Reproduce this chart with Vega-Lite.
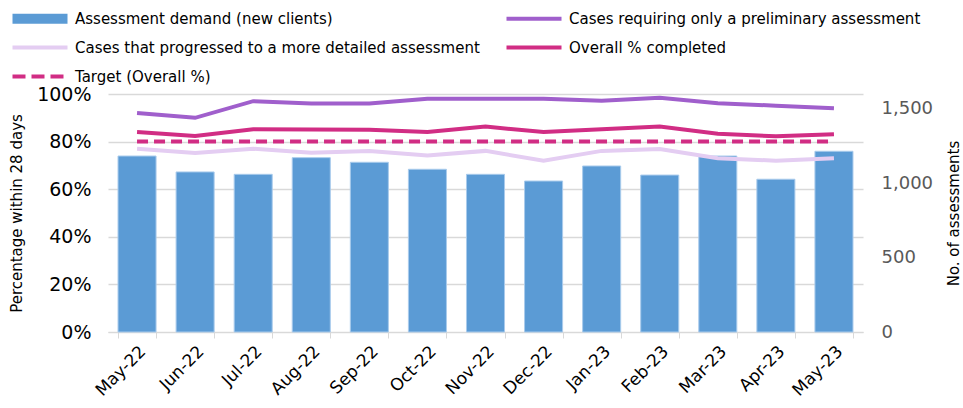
{
  "$schema": "https://vega.github.io/schema/vega-lite/v6.json",
  "width": 755,
  "height": 238,
  "autosize": "none",
  "padding": {"left": 108, "top": 94, "right": 100, "bottom": 76},
  "background": "white",
  "config": {
    "view": {"stroke": null},
    "font": "DejaVu Sans",
    "axis": {"labelFont": "DejaVu Sans", "titleFont": "DejaVu Sans", "titleFontWeight": "normal", "titleColor": "black", "labelColor": "black"}
  },
  "datasets": {
    "bars": [
      {"month": "May-22", "series": "Assessment demand (new clients)", "count": 1183},
      {"month": "Jun-22", "series": "Assessment demand (new clients)", "count": 1076},
      {"month": "Jul-22", "series": "Assessment demand (new clients)", "count": 1060},
      {"month": "Aug-22", "series": "Assessment demand (new clients)", "count": 1172},
      {"month": "Sep-22", "series": "Assessment demand (new clients)", "count": 1141},
      {"month": "Oct-22", "series": "Assessment demand (new clients)", "count": 1094},
      {"month": "Nov-22", "series": "Assessment demand (new clients)", "count": 1060},
      {"month": "Dec-22", "series": "Assessment demand (new clients)", "count": 1015},
      {"month": "Jan-23", "series": "Assessment demand (new clients)", "count": 1116},
      {"month": "Feb-23", "series": "Assessment demand (new clients)", "count": 1055},
      {"month": "Mar-23", "series": "Assessment demand (new clients)", "count": 1183},
      {"month": "Apr-23", "series": "Assessment demand (new clients)", "count": 1027},
      {"month": "May-23", "series": "Assessment demand (new clients)", "count": 1215}
    ],
    "lines": [
      {"month": "May-22", "series": "Cases requiring only a preliminary assessment", "pct": 0.92},
      {"month": "Jun-22", "series": "Cases requiring only a preliminary assessment", "pct": 0.90},
      {"month": "Jul-22", "series": "Cases requiring only a preliminary assessment", "pct": 0.97},
      {"month": "Aug-22", "series": "Cases requiring only a preliminary assessment", "pct": 0.96},
      {"month": "Sep-22", "series": "Cases requiring only a preliminary assessment", "pct": 0.96},
      {"month": "Oct-22", "series": "Cases requiring only a preliminary assessment", "pct": 0.98},
      {"month": "Nov-22", "series": "Cases requiring only a preliminary assessment", "pct": 0.98},
      {"month": "Dec-22", "series": "Cases requiring only a preliminary assessment", "pct": 0.98},
      {"month": "Jan-23", "series": "Cases requiring only a preliminary assessment", "pct": 0.972},
      {"month": "Feb-23", "series": "Cases requiring only a preliminary assessment", "pct": 0.984},
      {"month": "Mar-23", "series": "Cases requiring only a preliminary assessment", "pct": 0.961},
      {"month": "Apr-23", "series": "Cases requiring only a preliminary assessment", "pct": 0.951},
      {"month": "May-23", "series": "Cases requiring only a preliminary assessment", "pct": 0.94},
      {"month": "May-22", "series": "Cases that progressed to a more detailed assessment", "pct": 0.77},
      {"month": "Jun-22", "series": "Cases that progressed to a more detailed assessment", "pct": 0.752},
      {"month": "Jul-22", "series": "Cases that progressed to a more detailed assessment", "pct": 0.77},
      {"month": "Aug-22", "series": "Cases that progressed to a more detailed assessment", "pct": 0.753},
      {"month": "Sep-22", "series": "Cases that progressed to a more detailed assessment", "pct": 0.761},
      {"month": "Oct-22", "series": "Cases that progressed to a more detailed assessment", "pct": 0.742},
      {"month": "Nov-22", "series": "Cases that progressed to a more detailed assessment", "pct": 0.761},
      {"month": "Dec-22", "series": "Cases that progressed to a more detailed assessment", "pct": 0.72},
      {"month": "Jan-23", "series": "Cases that progressed to a more detailed assessment", "pct": 0.761},
      {"month": "Feb-23", "series": "Cases that progressed to a more detailed assessment", "pct": 0.769},
      {"month": "Mar-23", "series": "Cases that progressed to a more detailed assessment", "pct": 0.73},
      {"month": "Apr-23", "series": "Cases that progressed to a more detailed assessment", "pct": 0.72},
      {"month": "May-23", "series": "Cases that progressed to a more detailed assessment", "pct": 0.73},
      {"month": "May-22", "series": "Overall % completed", "pct": 0.84},
      {"month": "Jun-22", "series": "Overall % completed", "pct": 0.824},
      {"month": "Jul-22", "series": "Overall % completed", "pct": 0.852},
      {"month": "Aug-22", "series": "Overall % completed", "pct": 0.851},
      {"month": "Sep-22", "series": "Overall % completed", "pct": 0.85},
      {"month": "Oct-22", "series": "Overall % completed", "pct": 0.84},
      {"month": "Nov-22", "series": "Overall % completed", "pct": 0.863},
      {"month": "Dec-22", "series": "Overall % completed", "pct": 0.84},
      {"month": "Jan-23", "series": "Overall % completed", "pct": 0.852},
      {"month": "Feb-23", "series": "Overall % completed", "pct": 0.863},
      {"month": "Mar-23", "series": "Overall % completed", "pct": 0.833},
      {"month": "Apr-23", "series": "Overall % completed", "pct": 0.822},
      {"month": "May-23", "series": "Overall % completed", "pct": 0.831},
      {"month": "May-22", "series": "Target (Overall %)", "pct": 0.8},
      {"month": "Jun-22", "series": "Target (Overall %)", "pct": 0.8},
      {"month": "Jul-22", "series": "Target (Overall %)", "pct": 0.8},
      {"month": "Aug-22", "series": "Target (Overall %)", "pct": 0.8},
      {"month": "Sep-22", "series": "Target (Overall %)", "pct": 0.8},
      {"month": "Oct-22", "series": "Target (Overall %)", "pct": 0.8},
      {"month": "Nov-22", "series": "Target (Overall %)", "pct": 0.8},
      {"month": "Dec-22", "series": "Target (Overall %)", "pct": 0.8},
      {"month": "Jan-23", "series": "Target (Overall %)", "pct": 0.8},
      {"month": "Feb-23", "series": "Target (Overall %)", "pct": 0.8},
      {"month": "Mar-23", "series": "Target (Overall %)", "pct": 0.8},
      {"month": "Apr-23", "series": "Target (Overall %)", "pct": 0.8},
      {"month": "May-23", "series": "Target (Overall %)", "pct": 0.8}
    ]
  },
  "encoding": {
    "x": {
      "field": "month", "type": "ordinal",
      "sort": ["May-22","Jun-22","Jul-22","Aug-22","Sep-22","Oct-22","Nov-22","Dec-22","Jan-23","Feb-23","Mar-23","Apr-23","May-23"],
      "scale": {"paddingInner": 0.345, "paddingOuter": 0.1725},
      "axis": {"title": null, "labelAngle": -45, "labelFontSize": 17, "labelPadding": 5, "domainColor": "#D9D9D9", "tickColor": "#D9D9D9", "tickSize": 6, "tickBand": "extent", "grid": false}
    },
    "color": {
      "field": "series", "type": "nominal",
      "scale": {
        "domain": ["Assessment demand (new clients)", "Cases requiring only a preliminary assessment", "Cases that progressed to a more detailed assessment", "Overall % completed", "Target (Overall %)"],
        "range": ["#5B9BD5", "#A05FCC", "#E4CDF2", "#D12D84", "#D12D84"]
      },
      "legend": {
        "title": null,
        "orient": "none",
        "legendX": -98,
        "legendY": -83,
        "direction": "horizontal",
        "columns": 2,
        "columnPadding": 18,
        "rowPadding": 12,
        "labelFont": "DejaVu Sans",
        "labelFontSize": 15,
        "labelColor": "black",
        "labelLimit": 600,
        "labelOffset": 50,
        "symbolSize": 100,
        "symbolType": "M-1,-1H10V1H-1Z",
        "encode": {
          "symbols": {
            "update": {
              "shape": {"signal": "datum.value === 'Assessment demand (new clients)' ? 'M-1,-1H10V1H-1Z' : 'M-1,0H10'"},
              "fill": {"signal": "datum.value === 'Assessment demand (new clients)' ? '#5B9BD5' : 'transparent'"},
              "stroke": {"signal": "scale('color', datum.value)"},
              "strokeWidth": {"signal": "datum.value === 'Assessment demand (new clients)' ? 0 : 4"},
              "strokeDash": {"signal": "datum.value === 'Target (Overall %)' ? [13,6] : []"},
              "opacity": {"value": 1}
            }
          }
        }
      }
    }
  },
  "layer": [
    {
      "data": {"name": "bars"},
      "mark": {"type": "bar", "stroke": "#A9CBEC", "strokeWidth": 1},
      "encoding": {
        "y": {
          "field": "count", "type": "quantitative",
          "scale": {"domain": [0, 1600], "nice": false},
          "axis": {"orient": "right", "title": "No. of assessments", "titleFontSize": 15, "titleAngle": 270, "titlePadding": 29, "values": [0, 500, 1000, 1500], "format": ",d", "labelFontSize": 18, "labelColor": "#595959", "labelPadding": 18, "domain": false, "ticks": false, "grid": false}
        }
      }
    },
    {
      "data": {"name": "lines"},
      "transform": [{"filter": "datum.series !== 'Target (Overall %)'"}],
      "mark": {"type": "line", "strokeWidth": 4},
      "encoding": {
        "y": {
          "field": "pct", "type": "quantitative",
          "scale": {"domain": [0, 1], "nice": false},
          "axis": {"orient": "left", "title": "Percentage within 28 days", "titleFontSize": 15, "titlePadding": 12, "values": [0, 0.2, 0.4, 0.6, 0.8, 1], "format": ".0%", "labelFontSize": 19, "labelPadding": 17, "domain": false, "ticks": false, "grid": true, "gridColor": "#D9D9D9", "gridWidth": 1.5}
        }
      }
    },
    {
      "data": {"name": "lines"},
      "transform": [{"filter": "datum.series === 'Target (Overall %)'"}],
      "mark": {"type": "line", "strokeWidth": 4, "strokeDash": [11, 6]},
      "encoding": {
        "y": {"field": "pct", "type": "quantitative", "scale": {"domain": [0, 1], "nice": false}, "axis": null}
      }
    }
  ],
  "resolve": {"scale": {"y": "independent"}, "axis": {"y": "independent"}}
}
